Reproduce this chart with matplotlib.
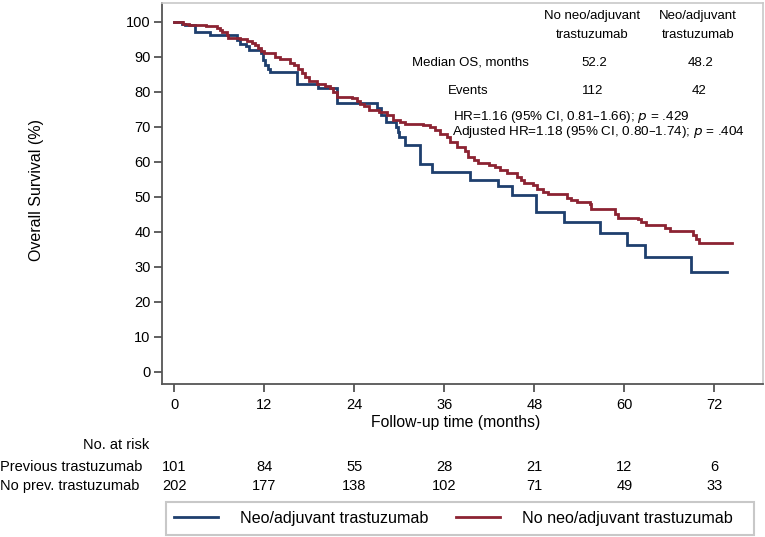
import matplotlib
matplotlib.use("Agg")
import matplotlib.pyplot as plt
from matplotlib.transforms import blended_transform_factory
from matplotlib.lines import Line2D
from matplotlib.patches import Rectangle

plt.rcParams['font.family'] = ['Liberation Sans', 'DejaVu Sans']

# ---------------- data ----------------
neo_t = [0, 1.0, 1.4, 2.8, 4.8, 8.4, 8.8, 9.6, 9.9, 11.5, 11.8, 12.1, 12.5, 12.8, 16.3, 19.2,
         21.7, 27.0, 27.5, 28.2, 29.6, 29.8, 30.0, 30.8, 32.7, 34.4, 39.4, 43.1, 45.0, 48.2,
         51.9, 56.8, 60.3, 62.8, 68.9, 73.7]
neo_s = [100, 99.4, 99.0, 97.1, 96.2, 94.8, 93.6, 92.9, 91.9, 91.0, 89.0, 87.6, 86.4, 85.7,
         82.1, 81.0, 76.7, 75.2, 73.3, 71.4, 70.0, 68.6, 67.0, 64.8, 59.3, 57.1, 54.8, 52.9,
         50.5, 45.7, 42.9, 39.6, 36.2, 32.7, 28.6, 28.6]

noneo_t = [0, 1.2, 2.0, 4.2, 5.7, 6.1, 6.4, 7.0, 7.2, 8.8, 9.7, 10.4, 10.8, 11.2, 11.6, 11.9,
           13.4, 14.1, 15.4, 16.0, 16.5, 17.0, 17.4, 18.0, 19.0, 20.1, 20.8, 21.2, 21.7, 23.7,
           24.4, 24.8, 25.3, 25.9, 27.3, 28.4, 29.2, 30.1, 30.8, 33.2, 34.1, 34.8, 35.4, 36.3,
           36.8, 37.7, 38.8, 39.2, 39.9, 40.5, 41.9, 42.8, 43.4, 44.3, 45.7, 46.2, 46.6, 47.8,
           48.4, 49.2, 49.8, 52.3, 52.9, 53.7, 55.4, 55.6, 58.7, 59.2, 61.8, 62.2, 62.9, 65.4,
           66.1, 69.1, 69.6, 69.9, 74.4]
noneo_s = [100, 99.4, 99.0, 98.7, 98.3, 97.6, 96.9, 96.2, 95.4, 95.0, 94.6, 94.0, 93.2, 92.4,
           91.6, 91.0, 90.0, 89.2, 88.3, 87.5, 86.5, 85.2, 84.3, 83.0, 82.3, 81.5, 81.0, 80.0,
           78.6, 78.1, 77.4, 76.5, 75.8, 74.8, 74.3, 73.2, 72.0, 71.3, 70.8, 70.5, 70.0, 69.0,
           68.0, 67.1, 65.7, 64.3, 62.9, 61.4, 60.5, 59.5, 59.0, 58.6, 57.6, 56.7, 55.7, 54.8,
           53.8, 53.3, 52.2, 51.4, 50.9, 49.5, 49.0, 48.5, 47.8, 46.4, 45.0, 44.0, 43.5, 42.9,
           42.0, 41.1, 40.2, 39.0, 38.0, 36.9, 36.9]

x_ticks = [0, 12, 24, 36, 48, 60, 72]
y_ticks = [0, 10, 20, 30, 40, 50, 60, 70, 80, 90, 100]
risk_prev = [101, 84, 55, 28, 21, 12, 6]
risk_noprev = [202, 177, 138, 102, 71, 49, 33]
risk_labels = ["Previous trastuzumab", "No prev. trastuzumab"]
series_names = ["Neo/adjuvant trastuzumab", "No neo/adjuvant trastuzumab"]
median_os = ["52.2", "48.2"]
events = ["112", "42"]
hr_lines = [r"HR=1.16 (95% CI, 0.81–1.66); $\it{p}$ = .429",
            r"Adjusted HR=1.18 (95% CI, 0.80–1.74); $\it{p}$ = .404"]

BLUE = "#1e3f6e"
RED = "#8c2332"
W, H = 765, 537

fig = plt.figure(figsize=(W / 100, H / 100), dpi=100)
ax = fig.add_axes([161.7 / W, 1 - 384.3 / H, (762.7 - 161.7) / W, (384.3 - 2.7) / H])

ax.step(neo_t, neo_s, where='post', color=BLUE, lw=2.0, solid_joinstyle='miter')
ax.step(noneo_t, noneo_s, where='post', color=RED, lw=2.0, solid_joinstyle='miter')

ax.set_xlim(-1.68, 78.45)
ax.set_ylim(-3.6, 105.4)
ax.set_xticks(x_ticks)
ax.set_yticks(y_ticks)
ax.tick_params(axis='both', direction='out', length=6, width=1.2, color='#444444',
               labelsize=10.5)
ax.tick_params(axis='x', pad=4)
ax.tick_params(axis='y', pad=2)
for s in ['left', 'bottom']:
    ax.spines[s].set_color('#555555')
    ax.spines[s].set_linewidth(1.3)
for s in ['top', 'right']:
    ax.spines[s].set_color('#c8c8c8')
    ax.spines[s].set_linewidth(1.2)


def fpx(x, y):
    return x / W, 1 - y / H


fig.text(*fpx(37, 190), "Overall Survival (%)", rotation=90, ha='center', va='center',
         fontsize=11.5)
fig.text(*fpx(456, 422), "Follow-up time (months)", ha='center', va='center', fontsize=11.3)

# top-right table
col_x = [591.7, 697.7]
fig.text(*fpx(col_x[0], 16), "No neo/adjuvant", ha='center', va='center', fontsize=9.5)
fig.text(*fpx(col_x[0], 35), "trastuzumab", ha='center', va='center', fontsize=9.5)
fig.text(*fpx(col_x[1], 16), "Neo/adjuvant", ha='center', va='center', fontsize=9.5)
fig.text(*fpx(col_x[1], 35), "trastuzumab", ha='center', va='center', fontsize=9.5)
fig.text(*fpx(470, 62.7), "Median OS, months", ha='center', va='center', fontsize=9.5)
fig.text(*fpx(468, 90.7), "Events", ha='center', va='center', fontsize=9.5)
for i in range(2):
    fig.text(*fpx(col_x[i] + 3, 62.7), median_os[i], ha='center', va='center', fontsize=9.5)
    fig.text(*fpx(col_x[i] + 1, 90.7), events[i], ha='center', va='center', fontsize=9.5)
fig.text(*fpx(453, 116.7), hr_lines[0], ha='left', va='center', fontsize=9.7)
fig.text(*fpx(451.5, 131.7), hr_lines[1], ha='left', va='center', fontsize=9.7)

# number at risk
tr = blended_transform_factory(ax.transData, fig.transFigure)
fig.text(*fpx(149, 445), "No. at risk", ha='right', va='center', fontsize=10.5)
rows_y = [467, 486]
for lab, vals, yy in zip(risk_labels, [risk_prev, risk_noprev], rows_y):
    fig.text(*fpx(0, yy), lab, ha='left', va='center', fontsize=10.5)
    for xt, v in zip(x_ticks, vals):
        ax.text(xt, 1 - yy / H, str(v), transform=tr, ha='center', va='center', fontsize=10.5)

# legend (frame drawn separately to match the wide box)
fig.patches.append(Rectangle(fpx(166, 535), (754 - 166) / W, (535 - 502) / H,
                             transform=fig.transFigure, fill=False, edgecolor='#c8c8c8',
                             linewidth=1.5))
handles = [Line2D([], [], color=BLUE, lw=2.0), Line2D([], [], color=RED, lw=2.0)]
leg = fig.legend(handles, series_names, loc='center', bbox_to_anchor=fpx(453.5, 518.5), ncol=2,
                 frameon=False, fontsize=11.6, handlelength=2.73,
                 handletextpad=1.37, columnspacing=1.74, borderpad=0.4)

fig.savefig("out.png", dpi=100)
